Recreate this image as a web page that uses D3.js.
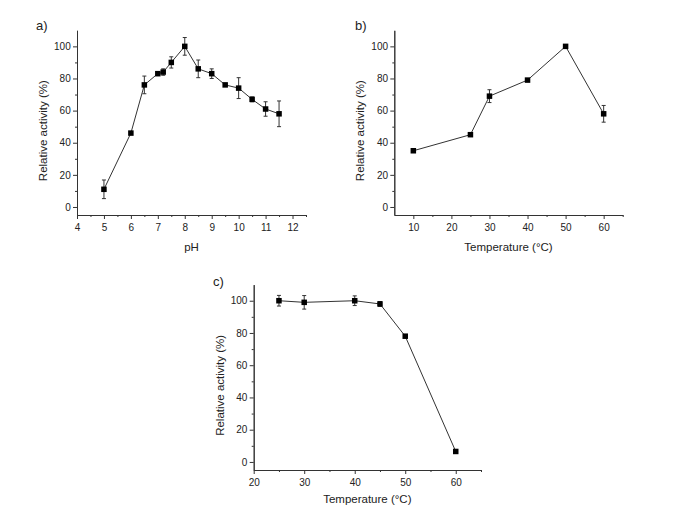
<!DOCTYPE html>
<html><head><meta charset="utf-8">
<script src="https://cdn.jsdelivr.net/npm/d3@7"></script>
<style>
body{margin:0;background:#fff;}
svg{display:block;}
text{font-family:"Liberation Sans",Arial,sans-serif;fill:#222;}
</style></head>
<body>
<script>
// ---- data ----
const phX   = [5, 6, 6.5, 7, 7.2, 7.5, 8, 8.5, 9, 9.5, 10, 10.5, 11, 11.5];
const phY   = [11, 46, 76, 83, 84, 90, 100, 86, 83, 76, 74, 67, 61, 58];
const phErr = [5.8, 0.8, 5.5, 1.2, 2, 3.5, 5.5, 5.5, 3, 1, 6.5, 1.5, 4.5, 8];

const tempX   = [10, 25, 30, 40, 50, 60];
const tempY   = [35, 45, 69, 79, 100, 58];
const tempErr = [0.8, 0.8, 4, 0.8, 0.8, 5.2];

const stabX   = [25, 30, 40, 45, 50, 60];
const stabY   = [100, 99, 100, 98, 78, 6.5];
const stabErr = [3.3, 4.2, 3, 1.5, 0.8, 0.8];

const phTicks = [4, 5, 6, 7, 8, 9, 10, 11, 12];
const tempTicks = [10, 20, 30, 40, 50, 60];
const stabTicks = [20, 30, 40, 50, 60];
const yTicks = [0, 20, 40, 60, 80, 100];

const W = 685, H = 513;
const svg = d3.select("body").append("svg").attr("width", W).attr("height", H);

function panel(opt) {
  const x = d3.scaleLinear().domain(opt.xDomain).range(opt.xRange);
  const y = d3.scaleLinear().domain([-5, 110]).range(opt.yRange);
  const g = svg.append("g");
  const axisColor = "#333";

  // minor ticks
  const xMinor = g.append("g").attr("transform", `translate(0,${opt.yRange[0]})`)
    .call(d3.axisBottom(x).tickValues(opt.xMinor).tickSize(2).tickSizeOuter(0).tickFormat(""));
  const yMinor = g.append("g").attr("transform", `translate(${opt.xRange[0]},0)`)
    .call(d3.axisLeft(y).tickValues([10, 30, 50, 70, 90]).tickSize(2).tickSizeOuter(0).tickFormat(""));
  // major
  const xa = g.append("g").attr("transform", `translate(0,${opt.yRange[0]})`)
    .call(d3.axisBottom(x).tickValues(opt.xTicks).tickSize(4).tickPadding(4.5).tickSizeOuter(0));
  const ya = g.append("g").attr("transform", `translate(${opt.xRange[0]},0)`)
    .call(d3.axisLeft(y).tickValues(yTicks).tickSize(4).tickPadding(2.3).tickSizeOuter(0));
  [xMinor, yMinor, xa, ya].forEach(a => {
    a.selectAll("path,line").attr("stroke", axisColor).attr("stroke-width", 1);
    a.selectAll("text").attr("font-size", 10).attr("fill", "#222")
      .attr("font-family", '"Liberation Sans",Arial,sans-serif');
  });

  const pts = opt.xs.map((v, i) => ({x: v, y: opt.ys[i], e: opt.es[i]}));

  // line
  g.append("path").datum(pts)
    .attr("fill", "none").attr("stroke", "#333").attr("stroke-width", 1)
    .attr("d", d3.line().x(d => x(d.x)).y(d => y(d.y)));

  // error bars
  const eb = g.append("g").attr("stroke", "#333").attr("stroke-width", 1);
  pts.forEach(d => {
    const cx = x(d.x), t = y(d.y + d.e), b = y(d.y - d.e);
    eb.append("line").attr("x1", cx).attr("x2", cx).attr("y1", t).attr("y2", b);
    eb.append("line").attr("x1", cx - 2).attr("x2", cx + 2).attr("y1", t).attr("y2", t);
    eb.append("line").attr("x1", cx - 2).attr("x2", cx + 2).attr("y1", b).attr("y2", b);
  });

  // markers
  const s = 5.5;
  g.selectAll("rect.m").data(pts).enter().append("rect")
    .attr("x", d => x(d.x) - s / 2).attr("y", d => y(d.y) - s / 2)
    .attr("width", s).attr("height", s).attr("fill", "#000");

  // axis titles
  const yMid = y(47.5);
  g.append("text").attr("transform", `translate(${opt.xRange[0] - 30},${yMid}) rotate(-90)`)
    .attr("text-anchor", "middle").attr("font-size", 11.5).text("Relative activity (%)");
  g.append("text").attr("x", (opt.xRange[0] + opt.xRange[1]) / 2).attr("y", opt.xTitleY)
    .attr("text-anchor", "middle").attr("font-size", 11.5).text(opt.xTitle);
  // panel label
  g.append("text").attr("x", opt.labelPos[0]).attr("y", opt.labelPos[1])
    .attr("font-size", 13).text(opt.label);
}

panel({
  xs: phX, ys: phY, es: phErr,
  xDomain: [4, 12.5], xRange: [77, 306], yRange: [215, 30.3],
  xTicks: phTicks, xMinor: [4.5, 5.5, 6.5, 7.5, 8.5, 9.5, 10.5, 11.5, 12.5],
  xTitle: "pH", xTitleY: 251, label: "a)", labelPos: [36, 29.5]
});
panel({
  xs: tempX, ys: tempY, es: tempErr,
  xDomain: [5, 65], xRange: [394.3, 622.7], yRange: [215, 30.3],
  xTicks: tempTicks, xMinor: [15, 25, 35, 45, 55, 65],
  xTitle: "Temperature (°C)", xTitleY: 251, label: "b)", labelPos: [355, 29.5]
});
panel({
  xs: stabX, ys: stabY, es: stabErr,
  xDomain: [20, 65], xRange: [253.7, 481], yRange: [470, 284.6],
  xTicks: stabTicks, xMinor: [25, 35, 45, 55, 65],
  xTitle: "Temperature (°C)", xTitleY: 503, label: "c)", labelPos: [213, 286]
});
</script>
</body></html>
